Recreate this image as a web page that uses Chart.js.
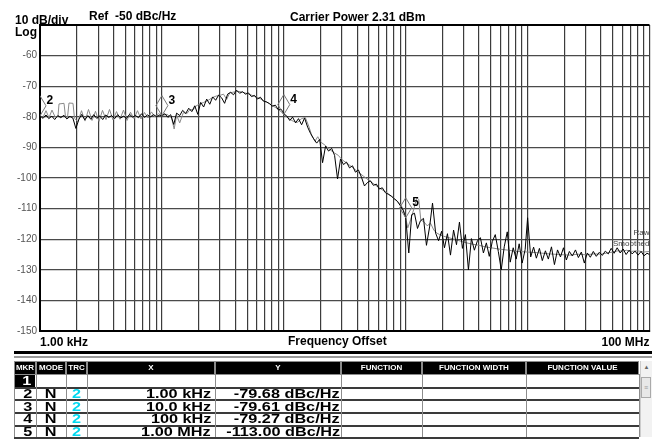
<!DOCTYPE html>
<html>
<head>
<meta charset="utf-8">
<script src="https://cdn.jsdelivr.net/npm/chart.js@4.4.1/dist/chart.umd.min.js"></script>
<style>
  html, body { margin: 0; padding: 0; background: #fff; }
  body { width: 657px; height: 439px; position: relative; overflow: hidden;
         font-family: "Liberation Sans", Arial, sans-serif; }
  #plot { position: absolute; left: 0; top: 0; }
  .lbl { position: absolute; font-size: 12px; font-weight: bold; line-height: 12px;
         white-space: pre; color: #000; }
  .abs { position: absolute; box-sizing: border-box; }
  .hd { background: #000; color: #fff; font-size: 8px; font-weight: bold; line-height: 11px;
        text-align: center; white-space: nowrap; overflow: hidden; }
  .td { font-size: 13px; font-weight: bold; line-height: 12px; white-space: nowrap; color: #000; }
  .td span { display: inline-block; transform: scaleX(1.25); }
  .r span { transform-origin: right center; }
  .c span { transform-origin: center center; }
</style>
</head>
<body>
<canvas id="plot" width="657" height="350"></canvas>
<div class="lbl" id="scaleTxt" style="left:15px;top:14px"></div>
<div class="lbl" style="left:15px;top:26px">Log</div>
<div class="lbl" id="refTxt" style="left:89px;top:10px"></div>
<div class="lbl" id="carrierTxt" style="left:290px;top:11px"></div>
<div class="lbl" style="left:288px;top:335px">Frequency Offset</div>
<div id="mkrTable"></div>
<script>
// measurement settings
const dbPerDiv = 10;
const refLevel = -50;
const carrierDbm = 2.31;

// raw trace, offset in kHz and level in dBc/Hz
const rawKHz = [
  1, 1.06, 1.12, 1.18, 1.25, 1.32, 1.4, 1.48, 1.57, 1.66, 1.76, 1.86, 1.97, 2.08, 2.2, 2.33, 2.47, 2.61, 2.76, 2.92,
  3.09, 3.27, 3.46, 3.66, 3.87, 4.1, 4.34, 4.59, 4.85, 5.13, 5.43, 5.75, 6.08, 6.43, 6.81, 7.2, 7.62, 8.06, 8.53, 9.02, 9.55,
  10, 10.6, 11.2, 11.8, 12.5, 13.2, 14, 14.8, 15.7, 16.6, 17.6, 18.6, 19.7, 20.8, 22, 23.3, 24.7, 26.1, 27.6, 29.2,
  30.9, 32.7, 34.6, 36.6, 38.7, 41, 43.4, 45.9, 48.5, 51.3, 54.3, 57.5, 60.8, 64.3, 68.1, 72, 76.2, 80.6, 85.3, 90.2, 95.5,
  100, 106, 112, 118, 125, 132, 140, 148, 157, 166, 176, 186, 197, 208, 220, 233, 247, 261, 276, 292,
  309, 327, 346, 366, 387, 410, 434, 459, 485, 513, 543, 575, 608, 643, 681, 720, 762, 806, 853, 902, 955,
  1000, 1060, 1120, 1180, 1250, 1320, 1400, 1480, 1570, 1660, 1760, 1860, 1970, 2080, 2200, 2330, 2470, 2610, 2760, 2920,
  3090, 3270, 3460, 3660, 3870, 4100, 4340, 4590, 4850, 5130, 5430, 5750, 6080, 6430, 6810, 7200, 7620, 8060, 8530, 9020, 9550,
  10000, 10600, 11200, 11800, 12500, 13200, 14000, 14800, 15700, 16600, 17600, 18600, 19700, 20800, 22000, 23300, 24700, 26100, 27600, 29200,
  30900, 32700, 34600, 36600, 38700, 41000, 43400, 45900, 48500, 51300, 54300, 57500, 60800, 64300, 68100, 72000, 76200, 80600, 85300, 90200, 95500,
  100000
];
const rawDbc = [
  -79.7, -80.5, -79.4, -80.6, -79.8, -80.9, -79.6, -80.3, -79.5, -80.7, -79.9, -80.4, -83.8, -80.9, -79.2, -81.0, -79.6, -80.8, -79.3, -80.5,
  -79.7, -80.9, -79.4, -80.2, -79.6, -80.6, -79.3, -80.4, -79.8, -80.5, -79.2, -80.1, -79.6, -80.3, -79.0, -80.2, -79.4, -80.0, -79.3, -79.9, -79.5,
  -79.6, -79.0, -80.2, -79.3, -82.5, -78.8, -79.6, -77.9, -78.9, -77.2, -78.3, -76.4, -79.2, -75.3, -76.8, -74.2, -75.9, -73.5, -74.6, -72.9,
  -73.8, -75.6, -72.6, -72.0, -72.8, -71.3, -72.3, -71.8, -72.6, -72.2, -73.4, -73.0, -74.2, -73.6, -74.9, -75.1, -75.7, -76.5, -76.2, -77.7, -77.6,
  -79.0, -79.8, -81.2, -80.1, -82.0, -80.6, -82.6, -80.4, -83.4, -85.5, -87.2, -88.6, -87.4, -95.0, -89.6, -91.2, -90.3, -92.6, -100.3, -93.8,
  -95.6, -94.8, -96.7, -96.0, -98.1, -97.4, -99.8, -102.6, -101.5, -100.9, -102.4, -102.0, -103.6, -103.2, -104.8, -105.3, -105.9, -106.8, -107.6, -109.0, -110.6,
  -113.0, -124.5, -112.0, -111.5, -116.5, -114.0, -113.2, -122.0, -116.0, -108.2, -118.0, -120.5, -117.4, -122.8, -118.2, -125.2, -117.0, -121.8, -114.4, -123.0,
  -118.5, -130.0, -119.8, -123.6, -120.6, -119.5, -124.5, -121.2, -125.6, -120.8, -118.5, -124.0, -130.0, -122.5, -117.6, -127.5, -122.8, -126.5, -121.5, -127.8, -123.4,
  -113.0, -125.8, -122.6, -126.2, -123.0, -127.0, -123.8, -126.5, -122.5, -128.3, -123.5, -125.8, -122.8, -126.8, -124.0, -125.5, -123.5, -126.0, -124.2, -127.8,
  -124.5, -125.9, -124.0, -125.6, -124.3, -125.3, -123.9, -124.8, -123.0, -124.6, -122.8, -124.5, -123.2, -125.0, -123.6, -124.8, -123.9, -125.2, -124.0, -125.4, -124.6,
  -125.0
];

// smoothed trace
const smoothKHz = [
  1, 1.058, 1.12, 1.185, 1.254, 1.328, 1.405, 1.432, 1.574, 1.619, 1.681, 1.729, 1.865, 1.919, 2.05, 2.19, 2.34, 2.5, 2.671, 2.853,
  3.048, 3.256, 3.479, 3.717, 3.971, 4.242, 4.532, 4.842, 5.172, 5.526, 5.903, 6.307, 6.738, 7.198, 7.69, 8.216, 8.777, 9.378,
  10, 11, 12, 12.6, 13.2, 14, 15, 16, 17, 18, 19, 20, 22, 24, 26, 28, 30, 32, 34, 36, 38, 40, 43, 46, 50, 55, 60, 65, 70, 75, 80, 85, 90, 95,
  100, 110, 120, 130, 140, 150, 160, 170, 180, 190, 200, 220, 240, 260, 280, 300, 330, 360, 400, 450, 500, 550, 600, 650, 700, 750, 800, 850, 900, 950,
  1000, 1040, 1100, 1170, 1230, 1280, 1330, 1400, 1500, 1600, 1700, 1800, 1900, 2000, 2200, 2500, 2800, 3000, 3500, 4000, 4500, 5000, 6000, 7000, 8000, 9000,
  10000, 12000, 15000, 18000, 22000, 26000, 30000, 35000, 40000, 45000, 50000, 55000, 60000, 65000, 70000, 80000, 90000, 100000
];
const smoothDbc = [
  -79.7, -80.2, -78.0, -80.3, -77.8, -80.0, -79.8, -75.8, -75.6, -80.0, -80.2, -75.5, -75.6, -80.5, -81.6, -78.0, -81.4, -77.6, -81.2, -78.2,
  -81.5, -77.9, -80.9, -77.6, -81.0, -78.3, -80.8, -77.8, -81.2, -78.5, -80.6, -78.0, -80.7, -78.6, -80.4, -78.4, -80.1, -79.0,
  -79.6, -79.2, -80.3, -84.0, -79.5, -82.0, -78.6, -79.0, -77.6, -77.8, -76.5, -76.0, -75.3, -74.6, -73.7, -73.2, -73.0, -72.6, -74.3, -72.2,
  -72.0, -71.8, -71.7, -72.0, -72.4, -73.0, -73.6, -74.2, -75.0, -75.5, -76.2, -76.9, -77.6, -78.3,
  -79.3, -80.6, -81.5, -81.8, -80.6, -80.2, -83.0, -86.2, -88.0, -86.5, -88.2, -89.4, -90.8, -91.8, -92.6, -94.0, -95.2, -96.3, -97.8, -99.4,
  -100.8, -102.0, -103.1, -104.0, -104.8, -105.8, -106.6, -107.5, -108.5, -110.0,
  -113.0, -116.3, -113.5, -110.0, -106.5, -107.0, -113.8, -114.2, -115.6, -114.8, -117.0, -118.0, -118.5, -118.9, -119.4, -120.0, -120.6, -121.0,
  -121.6, -122.0, -122.5, -122.8, -123.3, -123.6, -124.0, -124.1,
  -124.2, -124.4, -124.8, -125.0, -125.2, -124.9, -125.1, -124.8, -124.9, -124.5, -124.2, -123.8, -123.9, -123.6, -124.0, -123.8, -124.2, -124.0
];

// vertical grid: 1..9 in every decade, 1 kHz to 100 MHz
const gridKHz = [
  1, 2, 3, 4, 5, 6, 7, 8, 9,
  10, 20, 30, 40, 50, 60, 70, 80, 90,
  100, 200, 300, 400, 500, 600, 700, 800, 900,
  1000, 2000, 3000, 4000, 5000, 6000, 7000, 8000, 9000,
  10000, 20000, 30000, 40000, 50000, 60000, 70000, 80000, 90000,
  100000
];
const xTickText = { 1: '1.00 kHz', 100000: '100 MHz' };

// markers
const markerNum = [2, 3, 4, 5];
const markerKHz = [1, 10, 100, 1000];
const markerDbc = [-79.68, -79.61, -79.27, -113.00];
const markerXText = ['1.00 kHz', '10.0 kHz', '100 kHz', '1.00 MHz'];

document.getElementById('scaleTxt').textContent = dbPerDiv + ' dB/div';
document.getElementById('refTxt').textContent = 'Ref  ' + refLevel + ' dBc/Hz';
document.getElementById('carrierTxt').textContent = 'Carrier Power ' + carrierDbm.toFixed(2) + ' dBm';

const toPoints = (xs, ys) => xs.map((f, i) => ({ x: f, y: ys[i] }));

// diamonds, marker numbers, trace names
const markerPlugin = {
  id: 'markerPlugin',
  afterDatasetsDraw(chart) {
    const { ctx, chartArea: a, scales: { x, y } } = chart;
    ctx.save();
    markerNum.forEach((n, i) => {
      const px = x.getPixelForValue(markerKHz[i]);
      const py = y.getPixelForValue(markerDbc[i]);
      ctx.save();
      ctx.beginPath();
      ctx.rect(a.left, a.top, a.right - a.left, a.bottom - a.top);
      ctx.clip();
      ctx.beginPath();
      ctx.moveTo(px, py);
      ctx.lineTo(px + 6, py - 10);
      ctx.lineTo(px, py - 20);
      ctx.lineTo(px - 6, py - 10);
      ctx.closePath();
      ctx.strokeStyle = '#777';
      ctx.lineWidth = 1;
      ctx.stroke();
      ctx.restore();
      ctx.fillStyle = '#000';
      ctx.font = 'bold 12px "Liberation Sans"';
      ctx.textAlign = 'left';
      ctx.textBaseline = 'alphabetic';
      ctx.fillText(String(n), px + 6.5, py - 12);
    });
    ctx.font = '8px "Liberation Sans"';
    ctx.fillStyle = '#444';
    ctx.textAlign = 'right';
    ctx.textBaseline = 'middle';
    ctx.fillText('Raw', a.right, 233);
    ctx.fillText('Smoothed', a.right, 244);
    ctx.restore();
  }
};

new Chart(document.getElementById('plot'), {
  type: 'line',
  data: {
    datasets: [
      { label: 'Raw', data: toPoints(rawKHz, rawDbc), borderColor: '#000', borderWidth: 1, pointRadius: 0, tension: 0 },
      { label: 'Smoothed', data: toPoints(smoothKHz, smoothDbc), borderColor: '#8a8a8a', borderWidth: 1, pointRadius: 0, tension: 0 }
    ]
  },
  options: {
    responsive: false,
    animation: false,
    devicePixelRatio: 1,
    layout: { padding: { top: 25, right: 7.5, left: 0, bottom: 0 } },
    plugins: { legend: { display: false }, tooltip: { enabled: false } },
    scales: {
      x: {
        type: 'logarithmic',
        min: 1,
        max: 100000,
        afterBuildTicks: (axis) => { axis.ticks = gridKHz.map(v => ({ value: v })); },
        afterFit: (axis) => { axis.height = 19; },
        grid: { color: '#3c3c3c', lineWidth: 1.2, drawTicks: false },
        border: { color: '#000', width: 2 },
        ticks: {
          autoSkip: false, maxRotation: 0, minRotation: 0, align: 'inner', padding: 4,
          color: '#000', font: { family: 'Liberation Sans', size: 12, weight: 'bold' },
          callback: (v) => xTickText[v] || ''
        }
      },
      y: {
        min: -150,
        max: refLevel,
        afterFit: (axis) => { axis.width = 40; },
        grid: {
          drawTicks: false,
          color: (c) => c.tick.value === refLevel ? '#000' : '#4a4a4a',
          lineWidth: (c) => c.tick.value === refLevel ? 2 : 1.3
        },
        border: { color: '#000', width: 2 },
        ticks: {
          stepSize: dbPerDiv, padding: 3, color: '#555',
          font: { family: 'Liberation Sans', size: 10 },
          callback: (v) => v === refLevel ? '' : v
        }
      }
    }
  },
  plugins: [markerPlugin]
});

// marker table under the plot
const tbl = document.getElementById('mkrTable');
const colEdges = [14, 36, 66, 87, 215, 341, 422, 526, 639];
const heads = ['MKR', 'MODE', 'TRC', 'X', 'Y', 'FUNCTION', 'FUNCTION WIDTH', 'FUNCTION VALUE'];
function box(l, t, w, h, cls, css, text) {
  const d = document.createElement('div');
  d.className = 'abs ' + (cls || '');
  d.style.cssText += `left:${l}px;top:${t}px;width:${w}px;height:${h}px;` + (css || '');
  if (text !== undefined) {
    if (/\btd\b/.test(cls)) {
      const s = document.createElement('span');
      s.textContent = text;
      d.appendChild(s);
    } else {
      d.textContent = text;
    }
  }
  tbl.appendChild(d);
  return d;
}
box(14, 351, 638, 3, '', 'background:#000;');
box(14, 356, 638, 2, '', 'background:#9a9a9a;');
box(14, 361, 625, 14, '', 'background:#8c8c8c;');
heads.forEach((h, i) => {
  box(colEdges[i] + 1, 362, colEdges[i + 1] - colEdges[i] - 2, 12, 'hd', '', h);
});
const rowTop = [375, 387.5, 400.5, 413, 425.5];
const rowH = 12;
const rows = [['1', '', '', '', '']].concat(markerNum.map((n, i) => [
  String(n), 'N', '2', markerXText[i], markerDbc[i].toFixed(2) + ' dBc/Hz'
]));
rows.forEach((r, k) => {
  const t = rowTop[k];
  box(14, t + rowH - 0.5, 625, 2, '', 'background:#3a3a3a;');
  if (k === 0) box(15, t, 20, rowH, 'td r', 'background:#000;color:#fff;text-align:right;padding-right:4px;', r[0]);
  else box(14, t, 22, rowH, 'td r', 'text-align:right;padding-right:4px;', r[0]);
  box(36, t, 30, rowH, 'td c', 'text-align:center;', r[1]);
  box(66, t, 21, rowH, 'td c', 'text-align:center;color:#00d8f0;', r[2]);
  box(87, t, 128, rowH, 'td r', 'text-align:right;padding-right:4px;', r[3]);
  box(215, t, 126, rowH, 'td r', 'text-align:right;padding-right:1px;', r[4]);
});
colEdges.forEach((e) => box(e, 374, 1, 63, '', 'background:#8c8c8c;'));
// scroll bar
box(640, 361, 12, 76, '', 'background:#f2f2f2;border-left:1px solid #ccc;');
box(643, 364, 7, 6, '', 'font-size:6px;line-height:6px;color:#666;text-align:center;', '\u25B2');
box(641, 377, 10, 21, '', 'background:#e8e8e8;border:1px solid #aaa;font-size:7px;line-height:19px;color:#999;text-align:center;', '\u2261');
</script>
</body>
</html>
